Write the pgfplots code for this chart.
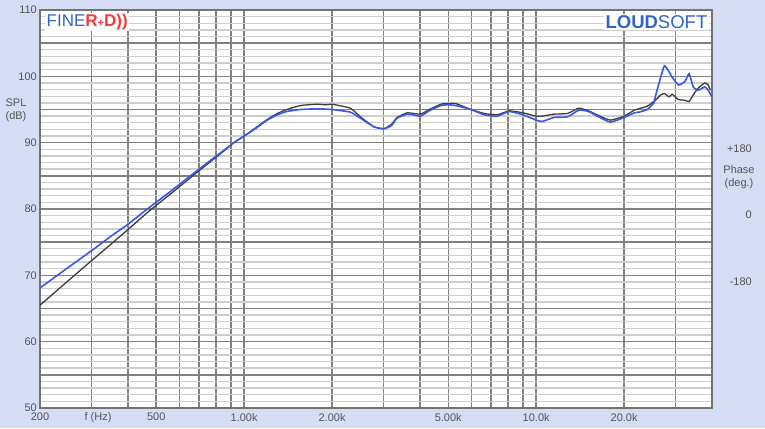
\documentclass[border=0pt]{standalone}
\usepackage{fontspec}
\setmainfont{Liberation Sans}
\usepackage{pgfplots}
\pgfplotsset{compat=1.18}
\definecolor{bg}{RGB}{213,221,245}
\definecolor{gdark}{RGB}{128,128,128}
\definecolor{glight}{RGB}{205,205,205}
\definecolor{labgray}{RGB}{85,85,85}
\definecolor{cblue}{RGB}{58,88,228}
\definecolor{cblack}{RGB}{60,60,60}
\definecolor{logoblue}{RGB}{50,100,200}
\definecolor{logored}{RGB}{245,60,60}
\begin{document}
\begin{tikzpicture}[x=1pt,y=1pt]
\useasboundingbox (0,0) rectangle (765,428);
\fill[bg] (0,0) rectangle (765,428);
\begin{axis}[
  at={(40pt,20pt)}, anchor=south west,
  scale only axis, width=672pt, height=398pt,
  xmode=log, xmin=200, xmax=40000, ymin=50, ymax=110,
  axis background/.style={fill=white},
  xtick={200,300,400,500,600,700,800,900,1000,2000,3000,4000,5000,6000,7000,8000,9000,10000,20000,30000},
  xticklabels={200,,,500,,,,,1.00k,2.00k,,,5.00k,,,,,10.0k,20.0k,},
  ytick={50,55,...,110},
  yticklabels={50,,60,,70,,80,,90,,100,,110},
  minor ytick={51,52,53,54,56,57,58,59,61,62,63,64,66,67,68,69,71,72,73,74,76,77,78,79,81,82,83,84,86,87,88,89,91,92,93,94,96,97,98,99,101,102,103,104,106,107,108,109},
  grid=both,
  major grid style={color=gdark, line width=1.5pt},
  minor grid style={color=glight, line width=1.4pt},
  major tick length=0pt, minor tick length=0pt,
  axis line style={color=gdark!90!black, line width=2pt},
  /pgf/number format/assume math mode=true,
  ticklabel style={font=\fontsize{11}{13}\selectfont, text=labgray},
  yticklabel style={anchor=east, inner sep=0pt, xshift=-3pt},
  xticklabel style={anchor=north, inner sep=0pt, yshift=-5pt},
  clip=true,
]
\addplot[cblack, line width=1.3pt, smooth, tension=0.3] coordinates {
(200,65.5)(250,69.2)(300,72.2)(350,74.7)(400,76.9)(476,79.8)(550,82.0)(650,84.6)(750,86.8)(850,88.7)(922,90.0)(1000,91.0)(1100,92.3)(1200,93.5)(1300,94.4)(1400,95.0)(1560,95.6)(1779,95.8)(1900,95.7)(2000,95.8)(2310,95.2)(2500,93.9)(2780,92.4)(3012,92.1)(3200,92.8)(3340,93.8)(3620,94.5)(4020,94.3)(4300,95.0)(4720,95.8)(5000,95.9)(5300,95.9)(5980,95.0)(6640,94.4)(7350,94.2)(8100,94.8)(9000,94.5)(10000,94.0)(10500,94.0)(11500,94.3)(12800,94.4)(14000,95.2)(15100,94.8)(16700,93.9)(18000,93.4)(20000,94.0)(21700,94.9)(24000,95.5)(25600,96.4)(26700,97.2)(27500,97.4)(28500,96.9)(29200,97.3)(30700,96.5)(32300,96.4)(33400,96.2)(34500,97.2)(35800,98.2)(37800,99.0)(38800,98.7)(39500,97.9)
};
\addplot[cblue, line width=1.6pt, smooth, tension=0.3] coordinates {
(200,68.1)(250,71.2)(300,73.7)(350,75.9)(400,77.7)(466,80.0)(550,82.4)(650,84.9)(750,87.0)(850,88.8)(922,90.0)(1000,91.0)(1100,92.2)(1200,93.4)(1300,94.2)(1400,94.7)(1560,95.0)(1779,95.1)(2000,95.0)(2310,94.6)(2500,93.7)(2780,92.4)(3012,92.1)(3200,92.6)(3340,93.7)(3620,94.3)(3800,94.2)(4020,94.0)(4300,94.8)(4720,95.6)(5000,95.7)(5300,95.6)(5980,95.0)(6640,94.2)(7350,94.0)(8100,94.7)(9000,94.2)(10000,93.4)(10500,93.2)(11500,93.8)(12800,93.9)(14000,94.9)(15100,94.7)(16700,93.7)(18000,93.1)(20000,93.8)(21700,94.5)(22500,94.6)(24000,95.0)(25300,96.0)(25600,97.0)(26700,99.9)(27500,101.6)(28500,100.7)(29200,99.9)(30700,98.7)(32300,99.2)(33400,100.4)(34500,98.4)(35800,97.9)(37800,98.4)(38800,97.9)(40000,96.9)
};
\end{axis}
% logos
\node[anchor=west, fill=white, inner sep=1.5pt, font=\fontsize{17}{19}\selectfont] at (45,406)
  {\color{logoblue}FINE\color{logored}\textbf{R}{\fontsize{11}{12}\selectfont\textbf{+}}\textbf{D))}};
\node[anchor=east, fill=white, inner sep=1.5pt, font=\fontsize{18.5}{20}\selectfont, text=logoblue] at (709,406)
  {\textbf{LOUD}SOFT};
% side labels
\node[font=\fontsize{11}{13}\selectfont, text=labgray, align=center, inner sep=0pt] at (16,317.5) {SPL\\(dB)};
\node[font=\fontsize{11}{13}\selectfont, text=labgray, anchor=east, inner sep=0pt] at (752,279.7) {+180};
\node[font=\fontsize{11}{13}\selectfont, text=labgray, align=center, inner sep=0pt] at (739,251.3) {Phase\\(deg.)};
\node[font=\fontsize{11}{13}\selectfont, text=labgray, anchor=east, inner sep=0pt] at (752,213) {0};
\node[font=\fontsize{11}{13}\selectfont, text=labgray, anchor=east, inner sep=0pt] at (752,146.3) {-180};
\node[font=\fontsize{11}{13}\selectfont, text=labgray, inner sep=0pt] at (98,10) {f (Hz)};
\end{tikzpicture}
\end{document}
